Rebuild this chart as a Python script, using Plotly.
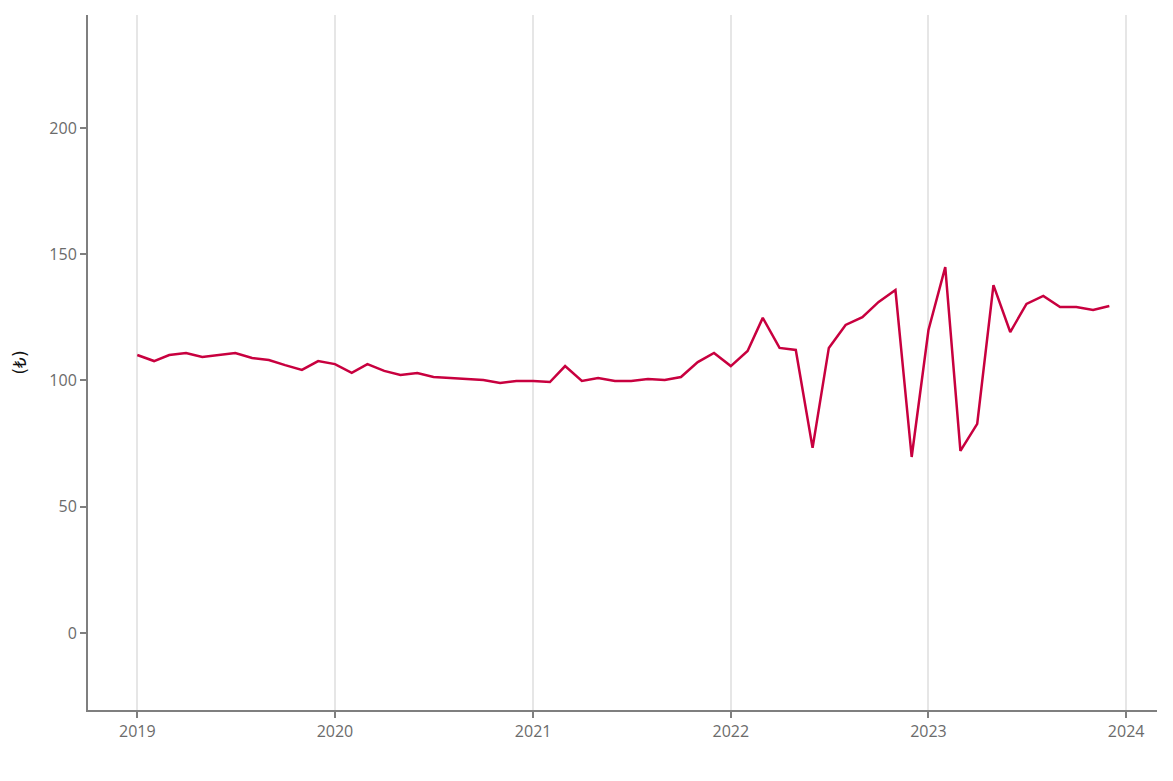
import plotly.graph_objects as go
import pandas as pd

dates = pd.date_range("2019-01-01", "2023-12-01", freq="MS")
values = [
    110.1, 107.7, 110.1, 110.9, 109.3, 110.1, 110.9, 108.9, 108.1, 106.1, 104.2, 107.7,
    106.5, 103.0, 106.5, 103.8, 102.2, 103.0, 101.4, 101.0, 100.6, 100.2, 99.0, 99.8,
    99.8, 99.4, 105.7, 99.8, 101.0, 99.8, 99.8, 100.6, 100.2, 101.4, 107.3, 110.9,
    105.7, 111.7, 124.8, 112.9, 112.1, 73.3, 112.9, 122.0, 125.1, 131.1, 135.8, 69.7,
    120.0, 144.9, 72.1, 82.8, 137.8, 119.2, 130.3, 133.5, 129.1, 129.1, 127.9, 129.5,
]
x_ticks = ["2019-01-01", "2020-01-01", "2021-01-01", "2022-01-01", "2023-01-01", "2024-01-01"]
x_tick_labels = ["2019", "2020", "2021", "2022", "2023", "2024"]
y_ticks = [0, 50, 100, 150, 200]
y_label = "(₺)"

fig = go.Figure()
fig.add_trace(go.Scatter(
    x=dates, y=values, mode="lines",
    line=dict(color="#C8003F", width=2.5),
    showlegend=False,
))

axis_font = dict(family="Open Sans, Lato, sans-serif", size=16, color="#6b6b6b")
fig.update_layout(
    width=1173, height=781,
    margin=dict(l=80, r=24, t=7, b=79),
    paper_bgcolor="white", plot_bgcolor="white",
    xaxis=dict(
        range=["2018-10-02", "2024-02-27"],
        tickvals=x_ticks, ticktext=x_tick_labels,
        showgrid=True, gridcolor="#e6e6e6", gridwidth=2,
        showline=True, linecolor="#7f7f7f", linewidth=2,
        ticks="outside", ticklen=6, tickwidth=2, tickcolor="#7f7f7f",
        tickfont=axis_font, zeroline=False, automargin=False,
    ),
    yaxis=dict(
        range=[-30.5, 244.75],
        tickvals=y_ticks,
        showgrid=False,
        showline=True, linecolor="#7f7f7f", linewidth=2,
        ticks="outside", ticklen=6, tickwidth=2, tickcolor="#7f7f7f",
        tickfont=axis_font, zeroline=False, automargin=False,
        title=dict(text=y_label, font=dict(family="DejaVu Sans, sans-serif", size=17, color="#111111"), standoff=18),
    ),
)
fig.write_html("out.html")
